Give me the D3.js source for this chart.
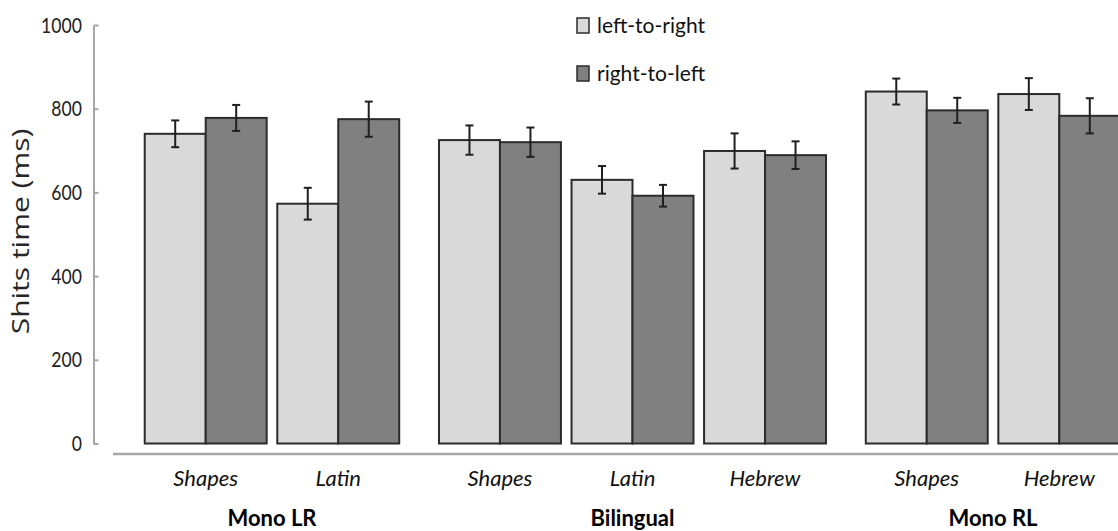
<!DOCTYPE html>
<html>
<head>
<meta charset="utf-8">
<script src="https://cdn.jsdelivr.net/npm/d3@7"></script>
<style>
  html, body { margin: 0; padding: 0; background: #fff; }
  svg { display: block; }
  .narrow {
    transform-box: fill-box;
    transform-origin: 100% 50%;
    transform: scaleX(0.8);
  }
</style>
</head>
<body>
<svg id="chart" width="1118" height="531"></svg>
<script>
// Mean shift times per condition, with error bars
const groups = ["Mono LR", "Bilingual", "Mono RL"];
const categories = ["Shapes", "Latin", "Shapes", "Latin", "Hebrew", "Shapes", "Hebrew"];
const categoryGroup = [0, 0, 1, 1, 1, 2, 2];
const series = ["left-to-right", "right-to-left"];
const leftToRight = [740, 573, 725, 630, 699, 841, 835];
const rightToLeft = [778, 775, 720, 592, 689, 796, 783];
const errLeftToRight = [32, 38, 35, 33, 42, 31, 38];
const errRightToLeft = [31, 42, 35, 26, 33, 30, 42];
const yTicks = [0, 200, 400, 600, 800, 1000];
const yLabel = "Shits time (ms)";

const fills = ["#d9d9d9", "#808080"];
const barStroke = "#2b2b2b";
const groupGap = 0.22;          // extra space between groups, in category steps
const pairHalf = 0.46;          // half width of a bar pair, in category steps

const svg = d3.select("#chart");

// slot position of each category: index plus a gap after every group
const slot = categories.map((c, i) => i + categoryGroup[i] * groupGap);

const x = d3.scaleLinear()
  .domain([0, slot[slot.length - 1]])
  .range([205.7, 1059.3]);

const y = d3.scaleLinear()
  .domain([0, 1000])
  .range([443.5, 25]);

const inner = d3.scaleBand()
  .domain(series)
  .range([-pairHalf, pairHalf]);

const rows = [];
categories.forEach((c, i) => {
  rows.push({ i, s: series[0], v: leftToRight[i], e: errLeftToRight[i], f: fills[0] });
  rows.push({ i, s: series[1], v: rightToLeft[i], e: errRightToLeft[i], f: fills[1] });
});

const bx = d => x(slot[d.i] + inner(d.s));
const bw = x(inner.bandwidth()) - x(0);

// y axis: line on the left with short ticks pointing into the plot
const yAxis = d3.axisLeft(y)
  .tickValues(yTicks)
  .tickSizeInner(-5)
  .tickSizeOuter(0)
  .tickPadding(11.6)
  .tickFormat(d3.format("d"));

const gy = svg.append("g")
  .attr("transform", "translate(93.5,0)")
  .call(yAxis);
gy.select(".domain").attr("stroke", "#a6a6a6").attr("stroke-width", 2);
gy.selectAll(".tick line").attr("stroke", "#a6a6a6").attr("stroke-width", 2);
gy.selectAll(".tick text")
  .attr("class", "narrow")
  .attr("fill", "#222")
  .style("font-family", "Lato, sans-serif")
  .style("font-size", "22px");

// bottom baseline under the bars
svg.append("line")
  .attr("x1", 113).attr("x2", 1118)
  .attr("y1", 454).attr("y2", 454)
  .attr("stroke", "#a6a6a6").attr("stroke-width", 2.5);

// bars
svg.append("g").selectAll("rect")
  .data(rows)
  .join("rect")
  .attr("x", bx)
  .attr("width", bw)
  .attr("y", d => y(d.v))
  .attr("height", d => y(0) - y(d.v))
  .attr("fill", d => d.f)
  .attr("stroke", barStroke)
  .attr("stroke-width", 2);

// error bars
const eb = svg.append("g")
  .attr("stroke", "#1f1f1f")
  .attr("stroke-width", 2);
const cx = d => bx(d) + bw / 2;
eb.selectAll("line.stem").data(rows).join("line")
  .attr("class", "stem")
  .attr("x1", cx).attr("x2", cx)
  .attr("y1", d => y(d.v + d.e)).attr("y2", d => y(d.v - d.e));
eb.selectAll("line.top").data(rows).join("line")
  .attr("class", "top")
  .attr("x1", d => cx(d) - 4).attr("x2", d => cx(d) + 4)
  .attr("y1", d => y(d.v + d.e)).attr("y2", d => y(d.v + d.e));
eb.selectAll("line.bot").data(rows).join("line")
  .attr("class", "bot")
  .attr("x1", d => cx(d) - 4).attr("x2", d => cx(d) + 4)
  .attr("y1", d => y(d.v - d.e)).attr("y2", d => y(d.v - d.e));

// category labels
svg.append("g").selectAll("text")
  .data(categories)
  .join("text")
  .attr("x", (c, i) => x(slot[i]))
  .attr("y", 486)
  .attr("text-anchor", "middle")
  .attr("fill", "#111")
  .style("font-family", "Lato, sans-serif")
  .style("font-style", "italic")
  .style("font-size", "22px")
  .text(c => c);

// group labels, centred under each group's bars
svg.append("g").selectAll("text")
  .data(groups)
  .join("text")
  .attr("x", (g, gi) => {
    const s = slot.filter((v, i) => categoryGroup[i] === gi);
    return x((d3.min(s) + d3.max(s)) / 2);
  })
  .attr("y", 526)
  .attr("text-anchor", "middle")
  .attr("fill", "#000")
  .style("font-family", "Lato, sans-serif")
  .style("font-weight", "bold")
  .style("font-size", "22px")
  .text(g => g);

// y axis title
svg.append("text")
  .attr("transform", "translate(21,231.5) rotate(-90) scale(1,0.8)")
  .attr("text-anchor", "middle")
  .attr("dy", "0.35em")
  .attr("fill", "#262626")
  .style("font-family", "'Open Sans', sans-serif")
  .style("font-size", "30px")
  .text(yLabel);

// legend
const legend = svg.append("g").selectAll("g")
  .data(series)
  .join("g")
  .attr("transform", (s, i) => `translate(577,${18 + i * 48})`);
legend.append("rect")
  .attr("width", 12).attr("height", 15)
  .attr("fill", (s, i) => fills[i])
  .attr("stroke", barStroke).attr("stroke-width", 1.5);
legend.append("text")
  .attr("x", 20)
  .attr("y", 15)
  .attr("fill", "#111")
  .style("font-family", "Lato, sans-serif")
  .style("font-size", "21px")
  .text(s => s);
</script>
</body>
</html>
